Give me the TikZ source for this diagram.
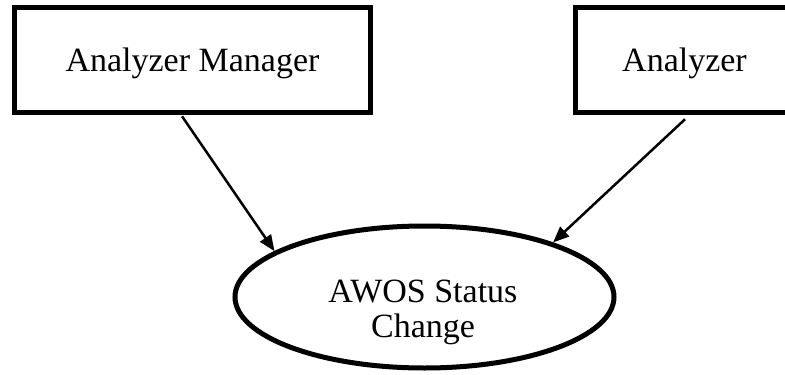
\documentclass[tikz,border=0pt]{standalone}
\usepackage{fontspec}
\setmainfont{Liberation Serif}
\usetikzlibrary{shapes.geometric,arrows.meta}
\tikzset{
  boxstyle/.style={draw=black, line width=5.5pt, rectangle, inner sep=0pt, fill=white, text height=26pt, text depth=4pt},
  ovalstyle/.style={draw=black, line width=5pt, ellipse, inner sep=0pt},
  txt/.style={font=\fontsize{34}{35}\selectfont, align=center},
  conn/.style={line width=2.5pt, -{Triangle[length=16pt,width=13pt]}}
}
\begin{document}
\begin{tikzpicture}[x=1pt,y=-1pt]
\useasboundingbox (0,0) rectangle (785,375);
\clip (0,0) rectangle (785,375);
\node[boxstyle, txt, minimum width=356pt, minimum height=105pt] (b1) at (192.5,60) {Analyzer Manager};
\node[boxstyle, txt, minimum width=218pt, minimum height=105pt] (b2) at (684.5,60) {Analyzer};
\node[ovalstyle, minimum width=379pt, minimum height=142pt] (e) at (424.5,297) {};
\node[txt] (et) at (423,312.5) {AWOS Status\\Change};
\draw[conn] ([xshift=-10.5pt,yshift=-1pt]b1.south) -- (e.163);
\draw[conn] ([xshift=0.5pt,yshift=-4pt]b2.south) -- (e.23);
\end{tikzpicture}
\end{document}
